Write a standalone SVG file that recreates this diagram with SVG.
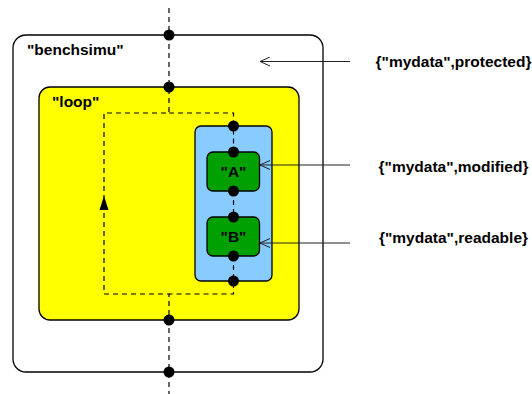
<svg xmlns="http://www.w3.org/2000/svg" width="532" height="394" viewBox="0 0 532 394">
<defs>
<style>
.box{stroke:#000;stroke-width:1.3}
.lbl{font-family:"Liberation Sans",Arial,sans-serif;font-weight:bold;font-size:15.5px;fill:#000}
.dash{fill:none;stroke:#000;stroke-width:1.2;stroke-dasharray:5,4}
.dot{fill:#000}
.arr{stroke:#222;stroke-width:1;fill:none;marker-end:url(#open)}
</style>
<marker id="open" viewBox="0 0 12 10" refX="11" refY="5" markerWidth="12" markerHeight="10" markerUnits="userSpaceOnUse" orient="auto">
<path d="M1,0.5 L11,5 L1,9.5" fill="none" stroke="#222" stroke-width="1"/>
</marker>
</defs>
<rect width="532" height="394" fill="#fff"/>
<g id="benchsimu">
<rect class="box" x="13" y="35" width="310" height="337" rx="13" fill="#fff"/>
<text class="lbl" x="27" y="55">"benchsimu"</text>
</g>
<g id="loop">
<rect class="box" x="39" y="87" width="260" height="233" rx="11" fill="#ffff00"/>
<text class="lbl" x="52" y="107">"loop"</text>
</g>
<g id="par">
<rect class="box" x="195" y="126" width="77" height="155" rx="6" fill="#88ccff"/>
</g>
<g id="A">
<rect class="box" x="207" y="152" width="52.5" height="39" rx="6" fill="#00a000"/>
<text class="lbl" x="233.5" y="177" text-anchor="middle">"A"</text>
</g>
<g id="B">
<rect class="box" x="207" y="217" width="52.5" height="39" rx="6" fill="#00a000"/>
<text class="lbl" x="233.5" y="242" text-anchor="middle">"B"</text>
</g>
<g id="connectors">
<path class="dash" d="M169,8 V113 H104 V294 H169 V394"/>
<path class="dash" d="M169,113 H233.5 V152 M233.5,191 V217 M233.5,256 V294 H169"/>
<path d="M104,196 L99.5,210 L108.5,210 Z" fill="#000"/>
<circle class="dot" cx="169" cy="35" r="5.5"/>
<circle class="dot" cx="169" cy="87" r="5.5"/>
<circle class="dot" cx="169" cy="320" r="5.5"/>
<circle class="dot" cx="169" cy="372" r="5.5"/>
<circle class="dot" cx="233.5" cy="126" r="5.5"/>
<circle class="dot" cx="233.5" cy="152" r="5.5"/>
<circle class="dot" cx="233.5" cy="191" r="5.5"/>
<circle class="dot" cx="233.5" cy="217" r="5.5"/>
<circle class="dot" cx="233.5" cy="256" r="5.5"/>
<circle class="dot" cx="233.5" cy="281" r="5.5"/>
<line class="arr" x1="350" y1="61.5" x2="260" y2="61.5"/>
<line class="arr" x1="350" y1="165" x2="260" y2="165"/>
<line class="arr" x1="350" y1="243" x2="260" y2="243"/>
</g>
<g id="labels">
<text class="lbl" x="453.5" y="67" text-anchor="middle">{"mydata",protected}</text>
<text class="lbl" x="453.5" y="172" text-anchor="middle">{"mydata",modified}</text>
<text class="lbl" x="453.5" y="242.5" text-anchor="middle">{"mydata",readable}</text>
</g>
</svg>
